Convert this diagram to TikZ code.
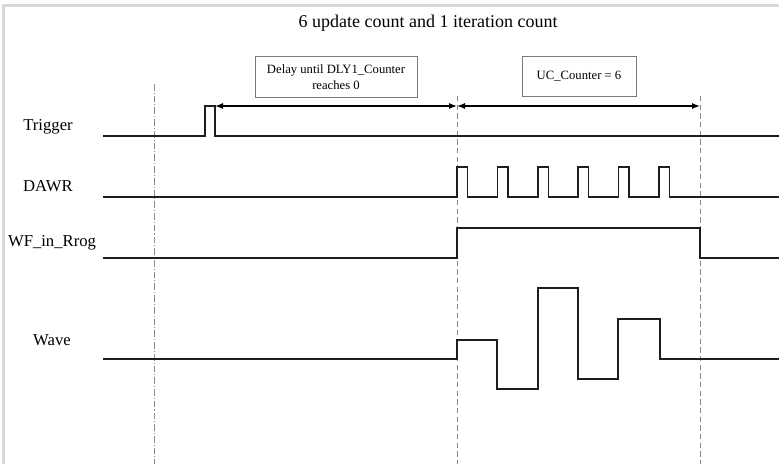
\documentclass[tikz,border=0pt]{standalone}
\usepackage{fontspec}
\setmainfont{Liberation Serif}
\usetikzlibrary{arrows.meta}
\begin{document}
\begin{tikzpicture}[x=0.75pt,y=-0.75pt]
\definecolor{cframe}{HTML}{D9D9D9}
\definecolor{cwave}{HTML}{1E1E1E}
\definecolor{cguide}{HTML}{8A8A8A}
\definecolor{cbox}{HTML}{7A7A7A}
\tikzset{sig/.style={draw=cwave,line width=1.1pt,line join=miter},
 guide/.style={draw=cguide,line width=0.5pt,dash pattern=on 4pt off 2.5pt},
 guidedot/.style={draw=cguide,line width=0.5pt,dash pattern=on 5pt off 1.5pt on 0.8pt off 1.5pt},
 lbl/.style={font=\fontsize{12.5}{14}\selectfont,inner sep=0pt},
 note/.style={draw=cbox,line width=0.6pt,fill=white,align=center,font=\fontsize{9.5}{11.5}\selectfont,inner sep=0pt},
 span/.style={draw=black,line width=0.9pt,{Latex[length=6pt,width=4.5pt]}-{Latex[length=6pt,width=4.5pt]}}}
\useasboundingbox (0,0) rectangle (779,464);
% frame
\fill[cframe] (2,4) rectangle (779,7);
\fill[cframe] (2,4) rectangle (5,464);
\node[font=\fontsize{13.5}{15}\selectfont] (title) at (428,23) {6 update count and 1 iteration count};
% guide lines
\draw[guidedot] (154,84) -- (154,464);
\draw[guide] (457,96) -- (457,464);
\draw[guide] (700,96) -- (700,464);
% notes
\node[note,minimum width=121.5pt,minimum height=30.5pt] (delay) at (336,77) {Delay until DLY1\_Counter\\reaches 0};
\node[note,minimum width=85.5pt,minimum height=30pt] (uc) at (579,76.5) {UC\_Counter = 6};
% signal names
\node[lbl] (trig) at (48,127) {Trigger};
\node[lbl] (dawr) at (48,186) {DAWR};
\node[lbl] (wf) at (52,243) {WF\_in\_Rrog};
\node[lbl] (wave) at (52,340) {Wave};
% signals
\draw[sig] (103,136) -- (205,136) -- (205,106) -- (215,106) -- (215,136) -- (779,136);
\draw[sig] (103,197) -- (457,197)
 \foreach \k in {0,...,5} {-- ({457+40.4*\k},197) -- ({457+40.4*\k},167) -- ({467.5+40.4*\k},167) -- ({467.5+40.4*\k},197)}
 -- (779,197);
\draw[sig] (103,258) -- (457,258) -- (457,228) -- (700,228) -- (700,258) -- (779,258);
\draw[sig] (103,359) -- (457,359) -- (457,340) -- (497,340) -- (497,389) -- (538,389) -- (538,288)
 -- (578,288) -- (578,379) -- (618,379) -- (618,319) -- (660,319) -- (660,359) -- (779,359);
% spans
\coordinate (d0) at (215,106);
\coordinate (d1) at (457,106);
\coordinate (u1) at (700,106);
\draw[span] (d0) -- (d1);
\draw[span] (d1) -- (u1);
\end{tikzpicture}
\end{document}
